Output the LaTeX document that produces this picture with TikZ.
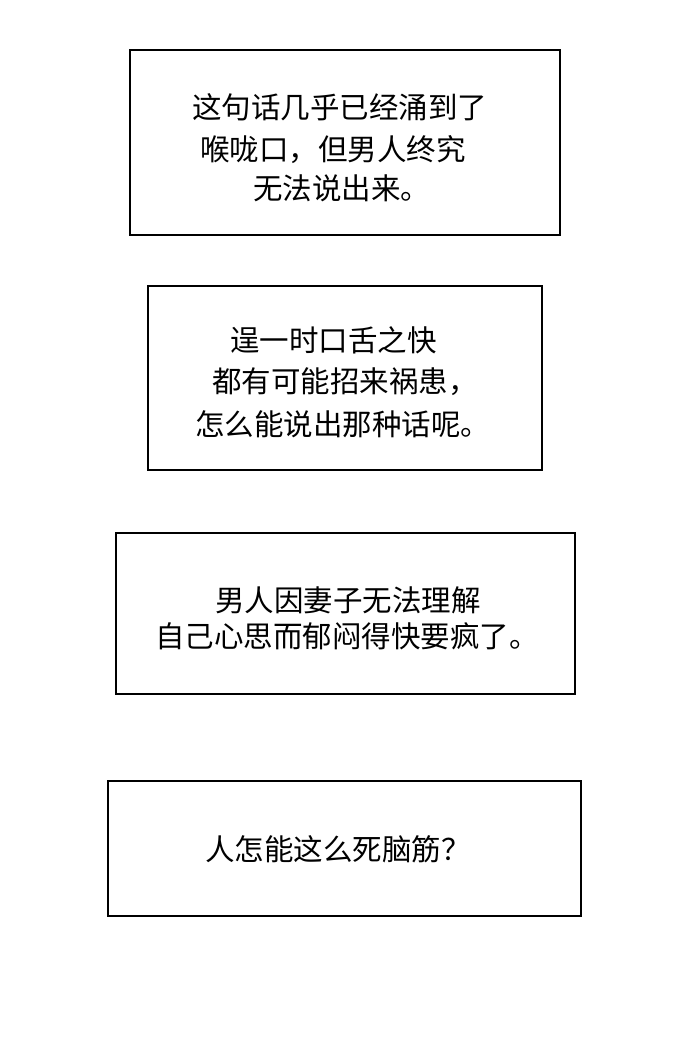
\documentclass[tikz,border=0pt]{standalone}
\usepackage{fontspec}
\newfontfamily\cjk{Noto Sans CJK SC}
\begin{document}
\begin{tikzpicture}[x=1pt,y=1pt,
  box/.style={draw=black,line width=2.8pt,fill=white},
  t/.style={anchor=west,inner sep=0pt,font=\cjk\fontsize{29.5}{34}\selectfont}]
\useasboundingbox (0,0) rectangle (690,1062);
\fill[white] (0,0) rectangle (690,1062);
\node[box,minimum width=430,minimum height=185] (b1) at (345,919.5) {};
\node[box,minimum width=394,minimum height=184] (b2) at (345,684) {};
\node[box,minimum width=459,minimum height=161] (b3) at (345.5,448.5) {};
\node[box,minimum width=473,minimum height=135] (b4) at (344.5,213.5) {};
\node[t] (l11) at (192,955) {这句话几乎已经涌到了};
\node[t] (l12) at (200,912) {喉咙口，但男人终究};
\node[t] (l13) at (253,874) {无法说出来。};
\node[t] (l21) at (230,722) {逞一时口舌之快};
\node[t] (l22) at (212,680) {都有可能招来祸患，};
\node[t] (l23) at (195,638) {怎么能说出那种话呢。};
\node[t] (l31) at (215,462) {男人因妻子无法理解};
\node[t] (l32) at (155,426) {自己心思而郁闷得快要疯了。};
\node[t] (l41) at (205,213) {人怎能这么死脑筋？};
\end{tikzpicture}
\end{document}
